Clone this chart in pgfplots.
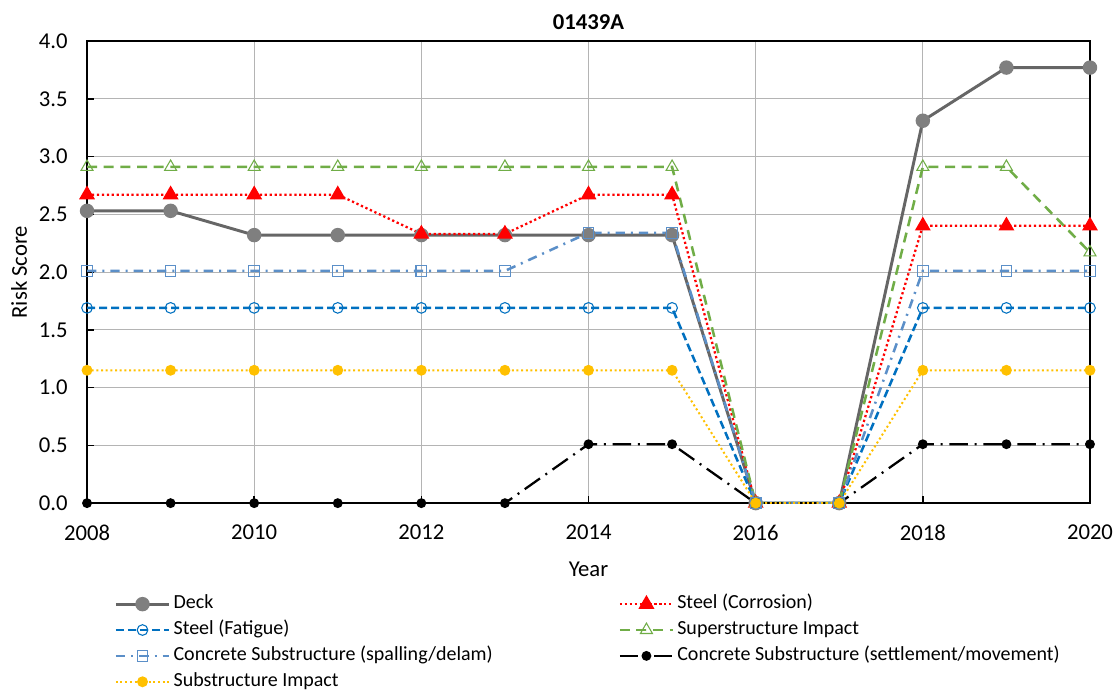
\documentclass[border=0pt]{standalone}
\usepackage{fontspec}
\setmainfont{Carlito}
\usepackage{pgfplots}
\pgfplotsset{compat=1.18}
\definecolor{deckline}{HTML}{666666}
\definecolor{deckmark}{HTML}{7F7F7F}
\definecolor{fatigue}{HTML}{0070C0}
\definecolor{superg}{HTML}{70AD47}
\definecolor{spall}{HTML}{5B8FC8}
\definecolor{subimp}{HTML}{FFC000}
\definecolor{gridc}{HTML}{B4B4B4}

\begin{document}
\begin{tikzpicture}
% page frame, in px * 0.75
\useasboundingbox (-65.25pt,-146.25pt) rectangle (773.75pt,377.25pt);
\begin{axis}[
  at={(0,0)}, anchor=south west,
  scale only axis, width=752pt, height=346.5pt,
  xmin=2008, xmax=2020, ymin=0, ymax=4,
  xtick={2008,2010,...,2020}, ytick={0,0.5,...,4},
  grid=major, grid style={gridc, line width=0.8pt},
  axis line style={black, line width=1.6pt},
  tick style={black, line width=1.2pt}, tick align=inside,
  major tick length=5pt,
  xtick pos=left, ytick pos=left,
  font=\fontsize{17}{20}\selectfont,
  tick label style={font=\fontsize{17}{20}\selectfont},
  /pgf/number format/assume math mode=true,
  x tick label style={/pgf/number format/1000 sep={}, yshift=-13pt},
  y tick label style={/pgf/number format/fixed, /pgf/number format/fixed zerofill,
    /pgf/number format/precision=1, xshift=-11pt},
  title={\textbf{01439A}}, title style={font=\fontsize{17}{20}\selectfont, yshift=-1pt},
  xlabel={Year}, ylabel={Risk Score},
  xlabel style={yshift=-9pt}, ylabel style={yshift=2pt},
  legend columns=2, legend cell align=left,
  legend style={at={(0.027,-0.19)}, anchor=north west, draw=none, inner sep=0pt,
    font=\fontsize{15}{18}\selectfont, row sep=0pt,
    nodes={text height=11pt, text depth=4pt, inner sep=2.2pt},
    /tikz/every even column/.append style={column sep=92pt}},
  legend image code/.code={\draw[mark repeat=2,mark phase=2] plot coordinates {(0pt,0pt) (20pt,0pt) (40pt,0pt)};},
]
\addplot[deckline, line width=2.2pt, mark=*, mark size=4.3pt, mark options={solid, fill=deckmark, draw=deckmark}] coordinates
  {(2008,2.53) (2009,2.53) (2010,2.32) (2011,2.32) (2012,2.32) (2013,2.32) (2014,2.32) (2015,2.32) (2016,0) (2017,0) (2018,3.31) (2019,3.77) (2020,3.77)};
\addlegendentry{Deck}
\addplot[red, line width=1.7pt, dotted, mark=triangle*, mark size=5.2pt, mark options={solid, fill=red}] coordinates
  {(2008,2.67) (2009,2.67) (2010,2.67) (2011,2.67) (2012,2.33) (2013,2.33) (2014,2.67) (2015,2.67) (2016,0) (2017,0) (2018,2.40) (2019,2.40) (2020,2.40)};
\addlegendentry{Steel (Corrosion)}
\addplot[fatigue, line width=1.9pt, dash pattern=on 6pt off 3pt, mark=o, mark size=4pt, mark options={solid, line width=0.8pt}] coordinates
  {(2008,1.69) (2009,1.69) (2010,1.69) (2011,1.69) (2012,1.69) (2013,1.69) (2014,1.69) (2015,1.69) (2016,0) (2017,0) (2018,1.69) (2019,1.69) (2020,1.69)};
\addlegendentry{Steel (Fatigue)}
\addplot[superg, line width=1.9pt, dash pattern=on 7.5pt off 5pt, mark=triangle, mark size=5.2pt, mark options={solid, line width=0.8pt}] coordinates
  {(2008,2.91) (2009,2.91) (2010,2.91) (2011,2.91) (2012,2.91) (2013,2.91) (2014,2.91) (2015,2.91) (2016,0) (2017,0) (2018,2.91) (2019,2.91) (2020,2.17)};
\addlegendentry{Superstructure Impact}
\addplot[spall, line width=1.9pt, dash pattern=on 7pt off 4.5pt on 1.5pt off 4.5pt, mark=square, mark size=4pt, mark options={solid, line width=0.8pt}] coordinates
  {(2008,2.01) (2009,2.01) (2010,2.01) (2011,2.01) (2012,2.01) (2013,2.01) (2014,2.34) (2015,2.34) (2016,0) (2017,0) (2018,2.01) (2019,2.01) (2020,2.01)};
\addlegendentry{Concrete Substructure (spalling/delam)}
\addplot[black, line width=1.7pt, dash pattern=on 14pt off 5pt on 1.5pt off 5pt, mark=*, mark size=2.8pt, mark options={solid}] coordinates
  {(2008,0) (2009,0) (2010,0) (2011,0) (2012,0) (2013,0) (2014,0.51) (2015,0.51) (2016,0) (2017,0) (2018,0.51) (2019,0.51) (2020,0.51)};
\addlegendentry{Concrete Substructure (settlement/movement)}
\addplot[subimp, line width=1.5pt, dotted, mark=*, mark size=3.3pt, mark options={solid}] coordinates
  {(2008,1.15) (2009,1.15) (2010,1.15) (2011,1.15) (2012,1.15) (2013,1.15) (2014,1.15) (2015,1.15) (2016,0) (2017,0) (2018,1.15) (2019,1.15) (2020,1.15)};
\addlegendentry{Substructure Impact}
\end{axis}
\end{tikzpicture}
\end{document}
